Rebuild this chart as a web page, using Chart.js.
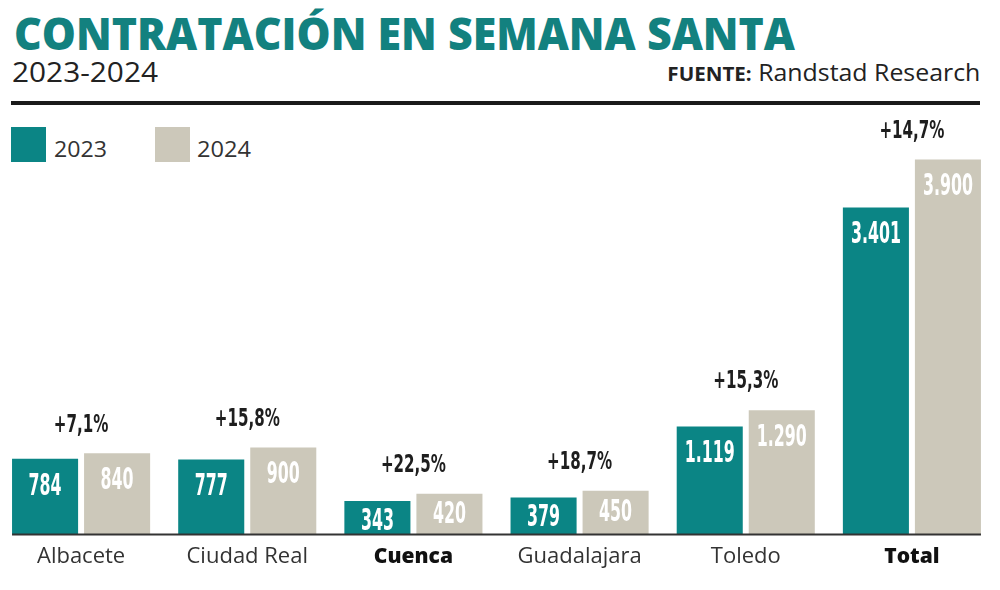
<!DOCTYPE html>
<html>
<head>
<meta charset="utf-8">
<script src="https://cdn.jsdelivr.net/npm/chart.js@4"></script>
<style>
  body { margin: 0; width: 1000px; height: 590px; overflow: hidden; background: #fff; position: relative; font-family: 'Open Sans', sans-serif; }
  .t { position: absolute; white-space: nowrap; line-height: 1; }
  #title { left: 14px; top: 10px; font-family: 'Open Sans', sans-serif; font-weight: 800; font-size: 45px; color: #13817f; transform-origin: left top; }
  #sub { left: 12px; top: 58px; font-size: 27px; color: #222; transform-origin: left top; }
  #src { right: 20px; top: 61px; font-size: 23px; color: #222; transform-origin: right top; }
  #src b { font-size: 19px; font-weight: 700; }
  #rule { position: absolute; left: 11px; top: 101px; width: 969px; height: 4px; background: #1a1a1a; }
  .sw { position: absolute; top: 127px; width: 35px; height: 35px; }
  .lg { top: 137px; font-size: 22px; color: #333; transform-origin: left top; }
  #wrap { position: absolute; left: -2px; top: 0; width: 997px; height: 590px; }
</style>
</head>
<body>
<div id="title" class="t" data-w="781">CONTRATACIÓN EN SEMANA SANTA</div>
<div id="sub" class="t" data-w="146">2023-2024</div>
<div id="src" class="t" data-w="313"><b>FUENTE:</b> Randstad Research</div>
<div id="rule"></div>
<div class="sw" style="left:11px;background:#0b8585"></div>
<div class="t lg" style="left:54px" data-w="53">2023</div>
<div class="sw" style="left:155px;background:#ccc8ba"></div>
<div class="t lg" style="left:197px" data-w="54">2024</div>
<div id="wrap"><canvas id="chart"></canvas></div>

<script>
// datos del gráfico
const categories = ['Albacete', 'Ciudad Real', 'Cuenca', 'Guadalajara', 'Toledo', 'Total'];
const boldCategories = ['Cuenca', 'Total'];
const values2023 = [784, 777, 343, 379, 1119, 3401];
const values2024 = [840, 900, 420, 450, 1290, 3900];
const changes = [7.1, 15.8, 22.5, 18.7, 15.3, 14.7];

const TEAL = '#0b8585';
const BEIGE = '#ccc8ba';
const NARROW = "'Liberation Sans Narrow', 'DejaVu Sans Condensed', sans-serif";

// 1119 -> "1.119"
function formatThousands(n) {
    return String(n).replace(/\B(?=(\d{3})+(?!\d))/g, '.');
}

function formatChange(n) {
    return '+' + n.toFixed(1).replace('.', ',') + '%';
}

// ajustar ancho de los textos de cabecera
function fitTexts() {
    document.querySelectorAll('[data-w]').forEach(el => {
        const target = parseFloat(el.dataset.w);
        const w = el.getBoundingClientRect().width;
        if (w > 0) el.style.transform = `scaleX(${target / w})`;
    });
}

// texto estrecho: escala horizontal para que cada cifra mida ~digitW px
function narrowText(ctx, txt, x, y, digitW) {
    const k = digitW / ctx.measureText('0').width;
    ctx.save();
    ctx.translate(x, y);
    ctx.scale(Math.min(1, k), 1);
    ctx.fillText(txt, 0, 0);
    ctx.restore();
}

const labelPlugin = {
    id: 'barLabels',
    afterDatasetsDraw(chart) {
        const ctx = chart.ctx;
        const area = chart.chartArea;
        const xs = chart.scales.x;
        const m0 = chart.getDatasetMeta(0);
        const m1 = chart.getDatasetMeta(1);
        ctx.save();

        // línea base
        const first = m0.data[0];
        const last = m1.data[m1.data.length - 1];
        const left = first.x - first.width / 2;
        const right = last.x + last.width / 2;
        ctx.fillStyle = '#333';
        ctx.fillRect(left, area.bottom - 0.5, right - left, 2);

        // valores dentro de las barras
        ctx.fillStyle = '#fff';
        ctx.textAlign = 'center';
        ctx.textBaseline = 'middle';
        ctx.font = 'bold 30px ' + NARROW;
        [m0, m1].forEach((meta, di) => {
            const vals = di === 0 ? values2023 : values2024;
            meta.data.forEach((bar, i) => {
                const h = bar.base - bar.y;
                const off = Math.min(27, Math.max(20, h * 0.5));
                narrowText(ctx, formatThousands(vals[i]), bar.x, bar.y + off + 1, 11);
            });
        });

        // variaciones
        ctx.fillStyle = '#1e1e1e';
        ctx.font = 'bold 24px ' + NARROW;
        categories.forEach((c, i) => {
            const top = Math.min(m0.data[i].y, m1.data[i].y);
            narrowText(ctx, formatChange(changes[i]), xs.getPixelForValue(i), top - 28, 10.5);
        });

        // categorías
        categories.forEach((c, i) => {
            const bold = boldCategories.includes(c);
            ctx.font = bold ? "800 21px 'Open Sans', sans-serif" : "400 22px 'Open Sans', sans-serif";
            ctx.fillStyle = bold ? '#111' : '#333';
            ctx.fillText(c, xs.getPixelForValue(i), 557);
        });
        ctx.restore();
    }
};

function drawChart() {
    const ctx = document.getElementById('chart').getContext('2d');
    new Chart(ctx, {
        type: 'bar',
        data: {
            labels: categories,
            datasets: [
                { label: '2023', data: values2023, backgroundColor: TEAL, barPercentage: 0.917, categoryPercentage: 0.867 },
                { label: '2024', data: values2024, backgroundColor: BEIGE, barPercentage: 0.917, categoryPercentage: 0.867 }
            ]
        },
        options: {
            responsive: true,
            maintainAspectRatio: false,
            animation: false,
            layout: { padding: { top: 150, bottom: 56, left: 0, right: 0 } },
            plugins: { legend: { display: false }, tooltip: { enabled: false } },
            scales: {
                x: { display: false },
                y: { display: false, min: 0, max: 4000 }
            }
        },
        plugins: [labelPlugin]
    });
}

document.fonts.ready.then(() => {
    fitTexts();
    drawChart();
});
</script>
</body>
</html>
